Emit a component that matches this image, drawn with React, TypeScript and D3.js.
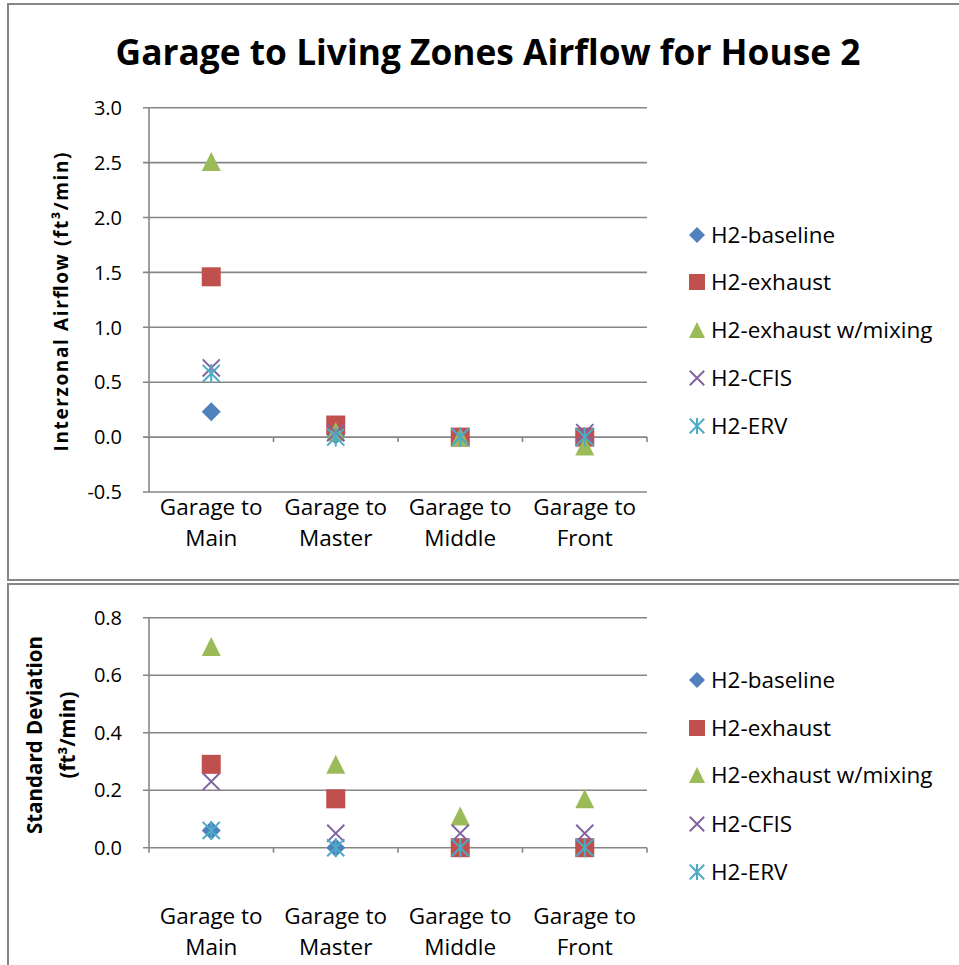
import React from "react";
import * as d3 from "d3";

const categories = ["Garage to Main", "Garage to Master", "Garage to Middle", "Garage to Front"];
const categoryLines = [["Garage to", "Main"], ["Garage to", "Master"], ["Garage to", "Middle"], ["Garage to", "Front"]];
const seriesNames = ["H2-baseline", "H2-exhaust", "H2-exhaust w/mixing", "H2-CFIS", "H2-ERV"];
const seriesColors = ["#4F81BD", "#C0504D", "#9BBB59", "#8064A2", "#4BACC6"];
const seriesMarkers = ["diamond", "square", "triangle", "x", "star"];

// Top chart: interzonal airflow (ft3/min)
const airBaseline = [0.23, 0.02, 0.0, 0.0];
const airExhaust = [1.46, 0.11, 0.0, 0.0];
const airMixing = [2.51, 0.05, 0.0, -0.08];
const airCFIS = [0.63, 0.04, 0.0, 0.04];
const airERV = [0.58, 0.0, 0.0, 0.0];
const airTicks = [-0.5, 0, 0.5, 1.0, 1.5, 2.0, 2.5, 3.0];

// Bottom chart: standard deviation (ft3/min)
const sdBaseline = [0.06, 0.0, 0.0, 0.0];
const sdExhaust = [0.29, 0.17, 0.0, 0.0];
const sdMixing = [0.7, 0.29, 0.11, 0.17];
const sdCFIS = [0.23, 0.05, 0.05, 0.05];
const sdERV = [0.06, 0.0, 0.0, 0.0];
const sdTicks = [0, 0.2, 0.4, 0.6, 0.8];

const FONT = "'Open Sans', Lato, sans-serif";
const GRID = "#868686";
const LABEL_SIZE = 22.5;

const fmtTick = (v: number) => d3.format(".1f")(v).replace("−", "-");

function Marker({ type, color, x, y, s }: { type: string; color: string; x: number; y: number; s: number }) {
  const h = s / 2;
  if (type === "diamond")
    return <path d={`M${x},${y - h} L${x + h},${y} L${x},${y + h} L${x - h},${y} Z`} fill={color} />;
  if (type === "square") return <rect x={x - h} y={y - h} width={s} height={s} fill={color} />;
  if (type === "triangle")
    return <path d={`M${x},${y - h} L${x + h},${y + h} L${x - h},${y + h} Z`} fill={color} />;
  const k = h * 0.9;
  if (type === "x")
    return (
      <path d={`M${x - k},${y - k} L${x + k},${y + k} M${x - k},${y + k} L${x + k},${y - k}`} stroke={color} strokeWidth={2} />
    );
  return (
    <path
      d={`M${x - k},${y - k} L${x + k},${y + k} M${x - k},${y + k} L${x + k},${y - k} M${x},${y - h} L${x},${y + h}`}
      stroke={color}
      strokeWidth={2}
    />
  );
}

function Panel({
  data,
  ticks,
  domain,
  yTop,
  yBottom,
  legendY,
  labelY,
}: {
  data: number[][];
  ticks: number[];
  domain: [number, number];
  yTop: number;
  yBottom: number;
  legendY: number[];
  labelY: number[];
}) {
  const x = d3.scaleBand<string>().domain(categories).range([149, 647]);
  const y = d3.scaleLinear().domain(domain).range([yBottom, yTop]);
  const y0 = y(0);
  const bounds = categories.map((c) => (x(c) as number) + x.bandwidth());
  return (
    <g>
      {ticks.map((t) => (
        <g key={t}>
          <line x1={143} x2={647} y1={y(t)} y2={y(t)} stroke={GRID} strokeWidth={1.6} />
          <text x={122} y={y(t)} dy="0.36em" textAnchor="end" fontFamily={FONT} fontSize={20} fill="#000">
            {fmtTick(t)}
          </text>
        </g>
      ))}
      <line x1={149} x2={149} y1={yTop} y2={Math.max(yBottom, y0 + 5)} stroke={GRID} strokeWidth={1.6} />
      {bounds.map((b, i) => (
        <line key={i} x1={b} x2={b} y1={y0} y2={y0 + 5} stroke={GRID} strokeWidth={1.6} />
      ))}
      {categories.map((c, i) => {
        const cx = (x(c) as number) + x.bandwidth() / 2;
        return (
          <text key={c} x={cx} textAnchor="middle" fontFamily={FONT} fontSize={LABEL_SIZE} fill="#000">
            <tspan x={cx} y={labelY[0]}>{categoryLines[i][0]}</tspan>
            <tspan x={cx} y={labelY[1]}>{categoryLines[i][1]}</tspan>
          </text>
        );
      })}
      {data.map((vals, si) =>
        vals.map((v, ci) => (
          <Marker
            key={`${si}-${ci}`}
            type={seriesMarkers[si]}
            color={seriesColors[si]}
            x={(x(categories[ci]) as number) + x.bandwidth() / 2}
            y={y(v)}
            s={19}
          />
        ))
      )}
      {seriesNames.map((n, i) => (
        <g key={n}>
          <Marker type={seriesMarkers[i]} color={seriesColors[i]} x={697} y={legendY[i]} s={16} />
          <text x={711} y={legendY[i]} dy="0.36em" fontFamily={FONT} fontSize={LABEL_SIZE} fill="#000">
            {n}
          </text>
        </g>
      ))}
    </g>
  );
}

export default function App() {
  return (
    <svg
      width={959}
      height={965}
      style={{ position: "absolute", left: 0, top: 0, background: "#fff" }}
    >
      <rect x={8} y={4} width={970} height={576} fill="#fff" stroke={GRID} strokeWidth={2} />
      <rect x={8} y={584} width={970} height={420} fill="#fff" stroke={GRID} strokeWidth={2} />
      <text x={488} y={65} textAnchor="middle" fontFamily={FONT} fontWeight="bold" fontSize={35.3} fill="#000">
        Garage to Living Zones Airflow for House 2
      </text>
      <Panel
        data={[airBaseline, airExhaust, airMixing, airCFIS, airERV]}
        ticks={airTicks}
        domain={[-0.5, 3]}
        yTop={107.7}
        yBottom={492}
        legendY={[235, 282, 330, 378, 426]}
        labelY={[515, 546]}
      />
      <text
        transform="translate(68,302) rotate(-90)"
        textAnchor="middle"
        fontFamily={FONT}
        fontWeight="bold"
        fontSize={19}
        textLength={299}
        lengthAdjust="spacing"
        fill="#000"
      >
        Interzonal Airflow (ft³/min)
      </text>
      <Panel
        data={[sdBaseline, sdExhaust, sdMixing, sdCFIS, sdERV]}
        ticks={sdTicks}
        domain={[0, 0.8]}
        yTop={617.7}
        yBottom={847.7}
        legendY={[680, 728, 775, 824, 872]}
        labelY={[924, 955]}
      />
      <text transform="translate(35,735) rotate(-90)" textAnchor="middle" fontFamily={FONT} fontWeight="bold" fontSize={20.5} fill="#000">
        <tspan x={0} y={7}>Standard Deviation</tspan>
        <tspan x={0} y={40}>(ft³/min)</tspan>
      </text>
    </svg>
  );
}
